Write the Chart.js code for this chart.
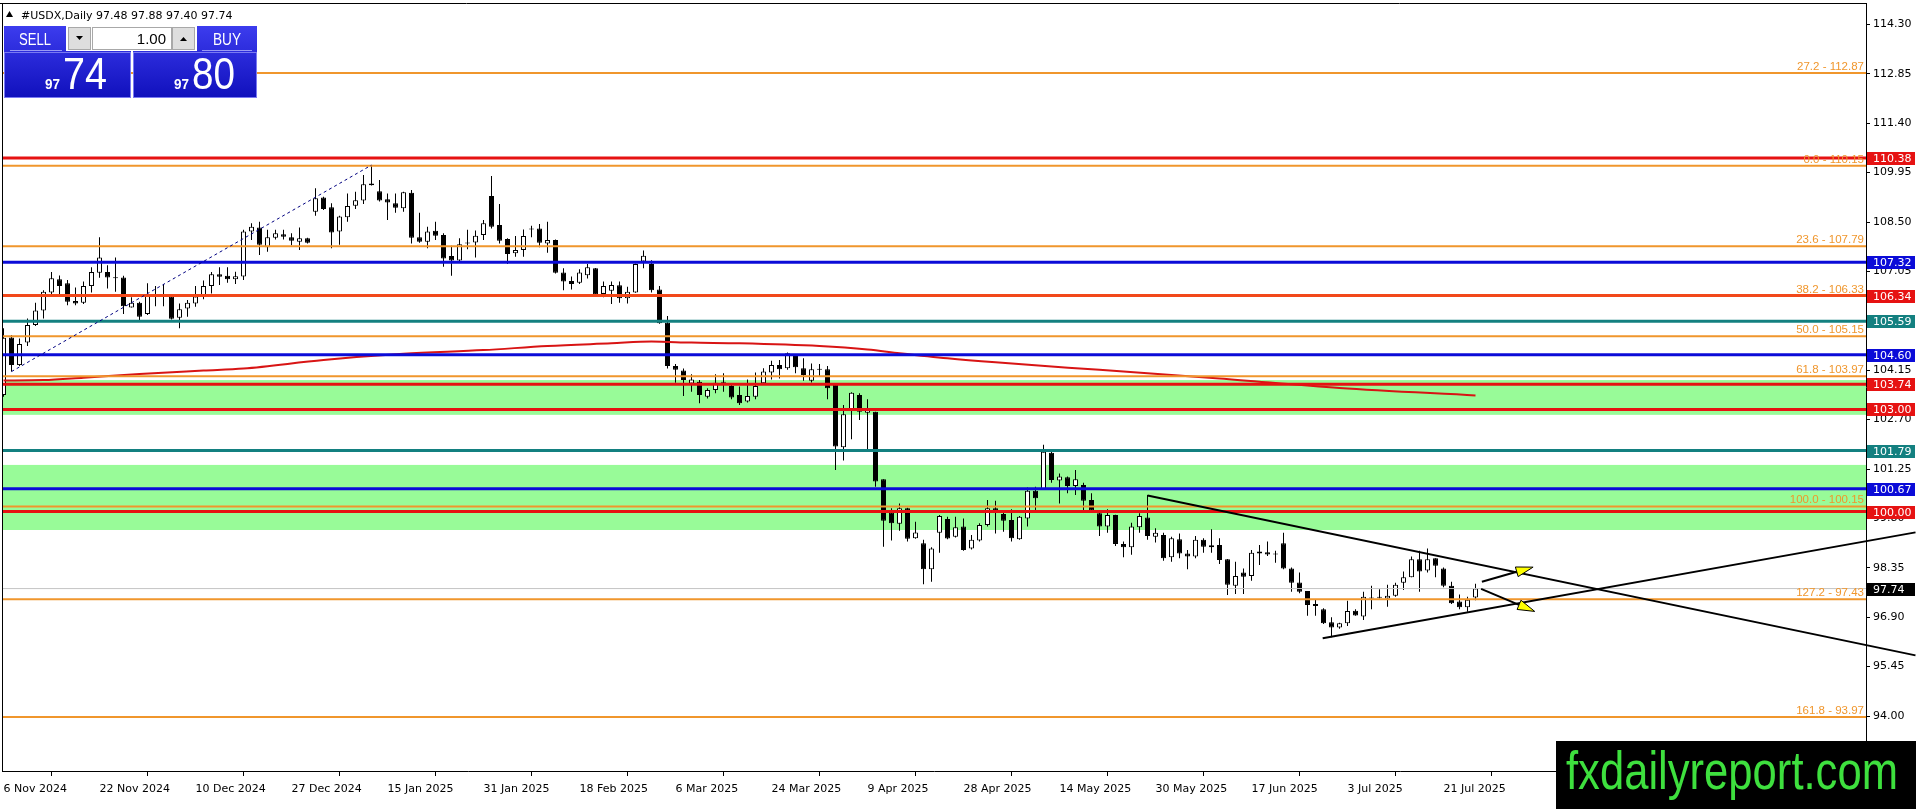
<!DOCTYPE html>
<html><head><meta charset="utf-8">
<script src="https://cdn.jsdelivr.net/npm/chart.js@4.4.1/dist/chart.umd.min.js"></script>
<style>html,body{margin:0;padding:0;background:#fff;overflow:hidden}canvas{display:block}</style>
</head><body>
<canvas id="c" width="1916" height="809" style="width:1916px;height:809px"></canvas>
<script>
// ---------------- DATA ----------------
const dateLabels = ['6 Nov 2024','22 Nov 2024','10 Dec 2024','27 Dec 2024','15 Jan 2025','31 Jan 2025','18 Feb 2025','6 Mar 2025','24 Mar 2025','9 Apr 2025','28 Apr 2025','14 May 2025','30 May 2025','17 Jun 2025','3 Jul 2025','21 Jul 2025'];
const dateBars = [0,12,24,36,48,60,72,84,96,108,120,132,144,156,168,180];
const priceTicks = [114.30,112.85,111.40,109.95,108.50,107.05,105.60,104.15,102.70,101.25,99.80,98.35,96.90,95.45,94.00];

const opens = [
103.42,105.11,104.30,104.96,105.48,105.90,106.43,106.82,106.70,106.18,
106.13,106.62,107.01,107.03,106.88,106.87,105.99,106.13,105.80,106.36,
106.33,106.31,105.69,105.96,106.11,106.33,106.62,106.97,106.92,106.82,
106.90,108.22,108.34,107.76,108.04,108.14,108.05,107.92,108.02,108.80,
109.22,108.93,108.22,108.64,108.98,109.13,109.63,109.40,109.17,109.05,
108.90,109.36,108.05,107.92,108.24,108.12,107.50,107.37,107.89,107.90,
108.12,109.26,108.41,108.00,107.58,107.68,108.31,108.31,107.87,107.97,
107.02,106.77,106.72,106.94,107.14,106.39,106.48,106.64,106.26,106.43,
107.34,107.27,106.52,105.54,104.27,104.14,103.76,103.81,103.37,103.57,
103.81,103.69,103.42,103.23,103.37,103.77,104.08,104.30,104.21,104.57,
104.21,103.84,104.18,104.18,103.72,101.89,103.00,103.42,102.90,102.93,
100.95,99.97,99.64,100.10,99.22,99.07,98.31,99.38,99.78,99.26,
99.56,98.92,99.15,99.61,100.10,99.93,99.75,99.19,99.80,100.61,
100.65,101.73,100.91,101.01,100.75,100.78,100.34,99.95,99.56,99.90,
99.05,98.95,99.54,99.83,99.26,99.31,98.66,99.19,98.77,98.68,
99.17,98.95,99.02,98.60,97.82,98.21,98.11,98.77,98.81,98.76,
99.07,98.33,97.92,97.67,97.29,97.13,96.75,96.60,96.72,97.09,
96.92,97.45,97.47,97.45,97.53,97.91,98.07,98.60,98.27,98.63,
98.33,97.82,97.36,97.19,97.48];
const highs = [
105.38,105.18,105.08,105.67,106.13,106.50,107.03,106.93,106.80,106.58,
106.75,107.17,108.05,107.23,107.46,106.92,106.29,106.16,106.70,106.62,
106.68,106.33,106.11,106.21,106.62,106.78,107.03,107.17,107.17,107.04,
108.27,108.46,108.51,108.27,108.27,108.27,108.17,108.34,108.04,109.49,
109.24,109.05,108.68,109.34,109.39,109.88,110.17,109.73,109.34,109.34,
109.39,109.44,108.77,108.36,108.51,108.17,107.80,108.02,108.27,108.25,
108.56,109.85,109.03,108.02,108.09,108.28,108.39,108.44,108.51,107.99,
107.14,106.90,107.11,107.27,107.15,106.75,106.75,106.75,106.60,107.28,
107.66,107.38,106.62,105.74,104.33,104.20,104.03,103.86,103.62,104.03,
104.06,103.76,103.67,103.88,104.08,104.21,104.43,104.45,104.67,104.60,
104.50,104.35,104.33,104.27,103.72,103.13,103.50,103.47,103.30,102.93,
100.95,100.10,100.24,100.11,99.70,99.17,98.95,99.90,99.85,99.85,
99.80,99.31,99.66,100.34,100.32,100.05,100.07,99.87,100.71,100.73,
101.96,101.79,101.12,101.03,101.22,100.85,100.54,99.97,100.07,99.91,
99.12,99.67,99.95,100.49,99.51,99.38,99.26,99.36,98.87,99.28,
99.22,99.48,99.22,98.61,98.53,98.33,98.87,99.02,99.12,98.85,
99.38,98.36,98.21,97.67,97.41,97.16,96.90,96.74,97.38,97.13,
97.65,97.82,97.72,97.85,97.91,98.24,98.68,98.85,98.92,98.63,
98.36,97.94,97.57,97.50,97.88];
const lows = [
103.37,104.11,104.27,104.86,105.45,105.67,106.39,106.31,106.06,106.06,
106.09,106.43,106.86,106.55,106.45,105.80,105.99,105.62,105.77,106.03,
106.03,105.64,105.38,105.72,106.01,106.23,106.40,106.65,106.72,106.68,
106.80,107.97,107.53,107.63,107.99,107.99,107.82,107.68,107.87,108.68,
108.85,107.73,107.83,108.51,108.88,109.03,109.57,109.10,108.56,108.77,
108.80,107.87,107.89,107.73,107.97,107.19,106.92,107.34,107.70,107.46,
107.97,108.31,107.87,107.27,107.48,107.48,108.05,107.76,107.60,106.99,
106.50,106.52,106.68,106.84,106.36,106.29,106.09,106.13,106.11,106.42,
107.14,106.43,105.51,104.20,103.78,103.39,103.52,103.18,103.32,103.47,
103.52,103.30,103.13,103.20,103.30,103.76,103.88,103.91,104.16,104.06,
103.84,103.79,103.96,103.30,101.22,101.50,102.12,102.69,101.81,100.73,
98.97,99.15,99.44,99.12,99.20,97.87,97.94,98.79,99.19,99.24,
98.85,98.89,99.12,99.56,99.36,99.41,99.12,99.17,99.56,100.03,
100.65,100.85,100.24,100.54,100.49,100.03,100.00,99.28,99.38,98.99,
98.66,98.73,99.38,99.17,99.09,98.56,98.53,98.63,98.31,98.63,
98.79,98.79,98.46,97.55,97.58,97.58,97.97,98.43,98.70,98.50,
98.31,97.65,97.60,96.94,96.94,96.70,96.31,96.56,96.64,96.94,
96.82,97.13,97.45,97.21,97.50,97.70,98.07,97.65,98.21,98.07,
97.78,97.29,97.13,97.06,97.40];
const closes = [
105.10,104.30,104.92,105.48,105.90,106.45,106.85,106.62,106.16,106.11,
106.62,107.03,107.46,106.87,106.85,106.03,106.13,105.72,106.36,106.33,
106.31,105.66,105.94,106.13,106.31,106.62,106.97,106.89,106.82,106.91,
108.22,108.36,107.83,108.05,108.17,108.07,107.95,108.02,107.89,109.20,
108.88,108.19,108.66,108.97,109.14,109.61,109.58,109.13,109.07,108.92,
109.37,108.04,107.92,108.22,108.10,107.43,107.37,107.85,107.87,108.10,
108.46,108.36,107.95,107.56,107.68,108.09,108.28,107.89,107.97,107.01,
106.75,106.68,107.02,107.17,106.38,106.62,106.65,106.26,106.45,107.27,
107.51,106.50,105.53,104.27,104.16,103.86,103.88,103.42,103.57,103.78,
103.78,103.35,103.18,103.39,103.69,104.11,104.30,104.18,104.65,104.24,
104.01,104.18,104.16,103.62,101.91,102.86,103.49,102.93,103.00,100.88,
99.73,99.66,100.10,99.20,99.39,98.31,98.92,99.87,99.21,99.54,
98.87,99.17,99.61,100.10,100.00,99.73,99.22,99.85,100.61,100.39,
101.76,100.93,101.03,100.75,100.95,100.32,100.03,99.56,99.90,99.05,
98.95,99.56,99.87,99.28,99.38,98.63,99.22,98.77,98.68,99.17,
98.97,99.01,98.58,97.85,98.11,98.09,98.79,98.83,98.74,98.74,
98.33,97.91,97.65,97.26,97.23,96.72,96.60,96.72,97.08,96.95,
97.50,97.47,97.49,97.53,97.85,98.07,98.60,98.24,98.60,98.41,
97.82,97.31,97.19,97.41,97.74];

const maBars   = [0,5,10,17,25,30,40,50,60,68,76,81,86,92,102,108,112,118,124,137,152,167,184];
const maValues = [103.85,103.86,103.93,104.04,104.14,104.20,104.45,104.63,104.74,104.86,104.94,104.99,104.96,104.94,104.86,104.76,104.65,104.50,104.38,104.16,103.91,103.63,103.41];

const levelPrices = [110.38,107.32,106.34,105.59,104.60,103.74,103.00,101.79,100.67,100.00];
const fibPct    = [27.2,0.0,23.6,38.2,50.0,61.8,100.0,127.2,161.8];
const fibPrices = [112.87,110.15,107.79,106.33,105.15,103.97,100.15,97.43,93.97];
const zoneLow  = [102.84,99.46];
const zoneHigh = [103.86,101.37];
const lastPrice = 97.74;
const headerOHLC = [97.48,97.88,97.40,97.74];
const bidAsk = ['97','74','97','80'];
const lotSize = '1.00';

const trendDownBars = [143,239];  const trendDownPrices = [100.47,95.78];
const trendUpBars   = [164.9,239]; const trendUpPrices   = [96.28,99.39];
const fibLineBars   = [1,46];      const fibLinePrices   = [104.11,110.17];
const arrowFromBars = [184.8,184.7]; const arrowFromPrices = [97.94,97.73];
const arrowToBars   = [191.2,191.4]; const arrowToPrices   = [98.37,97.07];

// ---------------- STYLE ----------------
const RED = '#e61212', BLUE = '#0b0bd8', TEAL = '#138080', ORANGE = '#f0962c', ORANGERED = '#f2481a';
const levelLineColors = [RED,BLUE,ORANGERED,TEAL,BLUE,RED,RED,TEAL,BLUE,RED];
const levelBoxColors  = [RED,BLUE,RED,TEAL,BLUE,RED,RED,TEAL,BLUE,RED];
const X_MIN = -0.1875, X_MAX = 232.8125;
const Y_MIN = 92.386, Y_MAX = 114.928;

Chart.defaults.font.family = '"DejaVu Sans", Verdana, sans-serif';
Chart.defaults.font.size = 11;
Chart.defaults.color = '#000';

const idx = opens.map((_, i) => i);
const datasets = [];
datasets.push({
  type: 'bar', label: 'wick', order: 20, grouped: false,
  data: idx.map(i => ({x: i, y: [lows[i], highs[i]]})),
  backgroundColor: '#000', borderWidth: 0, barThickness: 1, minBarLength: 1, inflateAmount: 0
});
datasets.push({
  type: 'bar', label: 'body', order: 19, grouped: false,
  data: idx.map(i => ({x: i, y: [opens[i], closes[i]]})),
  backgroundColor: idx.map(i => closes[i] >= opens[i] ? '#ffffff' : '#000000'),
  borderColor: '#000', borderWidth: 1, borderSkipped: false, barThickness: 5, minBarLength: 1, inflateAmount: 0
});
datasets.push({type: 'line', order: 15, data: [{x: X_MIN, y: lastPrice}, {x: X_MAX, y: lastPrice}],
  borderColor: '#c4c4c4', borderWidth: 1, pointRadius: 0});
datasets.push({type: 'line', order: 10, data: maBars.map((b, i) => ({x: b, y: maValues[i]})),
  borderColor: '#d81414', borderWidth: 2, pointRadius: 0, cubicInterpolationMode: 'monotone'});
fibPrices.forEach(p => datasets.push({type: 'line', order: 7,
  data: [{x: X_MIN, y: p}, {x: X_MAX, y: p}], borderColor: ORANGE, borderWidth: 2, pointRadius: 0}));
levelPrices.forEach((p, i) => datasets.push({type: 'line', order: 5,
  data: [{x: X_MIN, y: p}, {x: X_MAX, y: p}], borderColor: levelLineColors[i], borderWidth: 3, pointRadius: 0}));
datasets.push({type: 'line', order: 3, data: fibLineBars.map((b, i) => ({x: b, y: fibLinePrices[i]})),
  borderColor: '#000080', borderWidth: 1, borderDash: [3, 3], pointRadius: 0});
datasets.push({type: 'line', order: 2, clip: false, data: trendDownBars.map((b, i) => ({x: b, y: trendDownPrices[i]})),
  borderColor: '#000', borderWidth: 2, pointRadius: 0});
datasets.push({type: 'line', order: 2, clip: false, data: trendUpBars.map((b, i) => ({x: b, y: trendUpPrices[i]})),
  borderColor: '#000', borderWidth: 2, pointRadius: 0});

function fitText(ctx, text, x, y, font, w) {
  ctx.font = font;
  const m = ctx.measureText(text).width;
  ctx.save(); ctx.translate(x, y); ctx.scale(w / m, 1); ctx.fillText(text, 0, 0); ctx.restore();
}

const overlay = {
  id: 'overlay',
  beforeDatasetsDraw(chart) {
    const {ctx, chartArea: a, scales: {y}} = chart;
    ctx.save();
    ctx.fillStyle = '#98fb98';
    zoneLow.forEach((lo, i) => {
      const y1 = y.getPixelForValue(zoneHigh[i]), y2 = y.getPixelForValue(lo);
      ctx.fillRect(a.left, y1, a.right - a.left, y2 - y1);
    });
    ctx.restore();
  },
  afterDraw(chart) {
    const {ctx, chartArea: a, scales: {x, y}} = chart;
    ctx.save();
    ctx.strokeStyle = '#000'; ctx.lineWidth = 1;
    ctx.beginPath(); ctx.moveTo(0, a.top + 0.5); ctx.lineTo(a.right, a.top + 0.5);
    ctx.moveTo(a.left + 0.5, a.top); ctx.lineTo(a.left + 0.5, a.bottom); ctx.stroke();

    arrowFromBars.forEach((b, i) => {
      const x0 = x.getPixelForValue(b), y0 = y.getPixelForValue(arrowFromPrices[i]);
      const x1 = x.getPixelForValue(arrowToBars[i]), y1 = y.getPixelForValue(arrowToPrices[i]);
      const len = Math.hypot(x1 - x0, y1 - y0), ux = (x1 - x0) / len, uy = (y1 - y0) / len;
      const bx = x1 - ux * 17, by = y1 - uy * 17;
      ctx.strokeStyle = '#000'; ctx.lineWidth = 2;
      ctx.beginPath(); ctx.moveTo(x0, y0); ctx.lineTo(bx, by); ctx.stroke();
      ctx.beginPath();
      ctx.moveTo(x1, y1);
      ctx.lineTo(bx - uy * 5, by + ux * 5);
      ctx.lineTo(bx + uy * 5, by - ux * 5);
      ctx.closePath();
      ctx.fillStyle = '#ffff00'; ctx.fill();
      ctx.lineWidth = 1; ctx.stroke();
    });

    ctx.font = '11.5px "Liberation Sans", Arial, sans-serif';
    ctx.fillStyle = ORANGE; ctx.textAlign = 'right'; ctx.textBaseline = 'alphabetic';
    fibPct.forEach((pct, i) => {
      const py = y.getPixelForValue(fibPrices[i]);
      ctx.fillText(pct.toFixed(1) + ' - ' + fibPrices[i].toFixed(2), a.right - 2, py - 3);
    });

    ctx.font = '11px "DejaVu Sans", Verdana, sans-serif';
    ctx.textAlign = 'left'; ctx.textBaseline = 'middle';
    const box = (p, col) => {
      const py = Math.round(y.getPixelForValue(p));
      ctx.fillStyle = col; ctx.fillRect(a.right + 1, py - 6, 48, 13);
      ctx.fillStyle = '#fff'; ctx.fillText(p.toFixed(2), a.right + 7, py + 1);
    };
    levelPrices.forEach((p, i) => box(p, levelBoxColors[i]));
    box(lastPrice, '#000');

    ctx.fillStyle = '#000';
    ctx.beginPath(); ctx.moveTo(6, 17); ctx.lineTo(13, 17); ctx.lineTo(9.5, 11); ctx.closePath(); ctx.fill();
    ctx.textAlign = 'left'; ctx.textBaseline = 'alphabetic';
    ctx.font = '11px "DejaVu Sans", Verdana, sans-serif';
    ctx.fillText('#USDX,Daily ' + headerOHLC.map(v => v.toFixed(2)).join(' '), 21, 19);

    const grad = (y0, y1) => { const g = ctx.createLinearGradient(0, y0, 0, y1); g.addColorStop(0, '#3c3cee'); g.addColorStop(1, '#1010bc'); return g; };
    ctx.fillStyle = grad(26, 98);
    ctx.fillRect(4, 26, 127, 72);
    ctx.fillRect(133, 26, 124, 72);
    ctx.strokeStyle = '#7a7af2'; ctx.lineWidth = 1;
    ctx.strokeRect(4.5, 52.5, 126, 45); ctx.strokeRect(133.5, 52.5, 123, 45);
    ctx.strokeStyle = '#9a9af6';
    ctx.beginPath(); ctx.moveTo(10, 50.5); ctx.lineTo(62, 50.5); ctx.moveTo(202, 50.5); ctx.lineTo(252, 50.5); ctx.stroke();
    ctx.fillStyle = '#ffffff'; ctx.fillRect(66, 26, 131, 25);
    ctx.fillStyle = '#dedede'; ctx.fillRect(68, 27, 23, 23); ctx.fillRect(172, 27, 23, 23);
    ctx.strokeStyle = '#a8a8a8';
    ctx.strokeRect(68.5, 27.5, 22, 22); ctx.strokeRect(172.5, 27.5, 22, 22); ctx.strokeRect(92.5, 27.5, 79, 22);
    ctx.fillStyle = '#000';
    ctx.beginPath(); ctx.moveTo(76, 36); ctx.lineTo(83, 36); ctx.lineTo(79.5, 40); ctx.closePath(); ctx.fill();
    ctx.beginPath(); ctx.moveTo(180, 41); ctx.lineTo(187, 41); ctx.lineTo(183.5, 37); ctx.closePath(); ctx.fill();
    ctx.textAlign = 'right';
    ctx.font = '15px "Liberation Sans", Arial, sans-serif';
    ctx.fillText(lotSize, 166, 44);
    ctx.textAlign = 'left';
    ctx.fillStyle = '#ffffff';
    fitText(ctx, 'SELL', 19, 45, '16px "Liberation Sans", Arial, sans-serif', 32);
    fitText(ctx, 'BUY', 213, 45, '16px "Liberation Sans", Arial, sans-serif', 28);
    fitText(ctx, bidAsk[0], 45, 89, 'bold 15px "Liberation Sans", Arial, sans-serif', 15);
    fitText(ctx, bidAsk[1], 63, 89, '44px "Liberation Sans", Arial, sans-serif', 44);
    fitText(ctx, bidAsk[2], 174, 89, 'bold 15px "Liberation Sans", Arial, sans-serif', 15);
    fitText(ctx, bidAsk[3], 192, 89, '44px "Liberation Sans", Arial, sans-serif', 43);

    ctx.fillStyle = '#000'; ctx.fillRect(1556, 741, 360, 68);
    ctx.fillStyle = '#3ee03e';
    fitText(ctx, 'fxdailyreport.com', 1566, 789, '53px "Liberation Sans Narrow", "Liberation Sans", Arial, sans-serif', 332);
    ctx.restore();
  }
};

new Chart(document.getElementById('c'), {
  type: 'bar',
  data: {datasets},
  options: {
    responsive: false, animation: false, devicePixelRatio: 1, events: [],
    layout: {padding: {left: 2, top: 3, right: 0, bottom: 0}},
    plugins: {legend: {display: false}, tooltip: {enabled: false}},
    scales: {
      x: {
        type: 'linear', position: 'bottom', min: X_MIN, max: X_MAX, offset: false, bounds: 'data',
        afterBuildTicks: s => { s.ticks = dateBars.map(v => ({value: v})); },
        afterFit: s => { s.height = 38; s.paddingLeft = 0; s.paddingRight = 0; },
        ticks: {autoSkip: false, maxRotation: 0, align: 'start', padding: 7,
          callback: (v) => dateLabels[dateBars.indexOf(v)] },
        grid: {drawOnChartArea: false, drawTicks: true, tickLength: 5, color: '#000'},
        border: {display: true, color: '#000', width: 1}
      },
      y: {
        type: 'linear', position: 'right', min: Y_MIN, max: Y_MAX, bounds: 'data',
        afterBuildTicks: s => { s.ticks = priceTicks.map(v => ({value: v})); },
        afterFit: s => { s.width = 50; s.paddingTop = 0; s.paddingBottom = 0; },
        ticks: {padding: 3, callback: v => Number(v).toFixed(2)},
        grid: {drawOnChartArea: false, drawTicks: true, tickLength: 4, color: '#000'},
        border: {display: true, color: '#000', width: 1}
      }
    }
  },
  plugins: [overlay]
});
</script>
</body></html>
